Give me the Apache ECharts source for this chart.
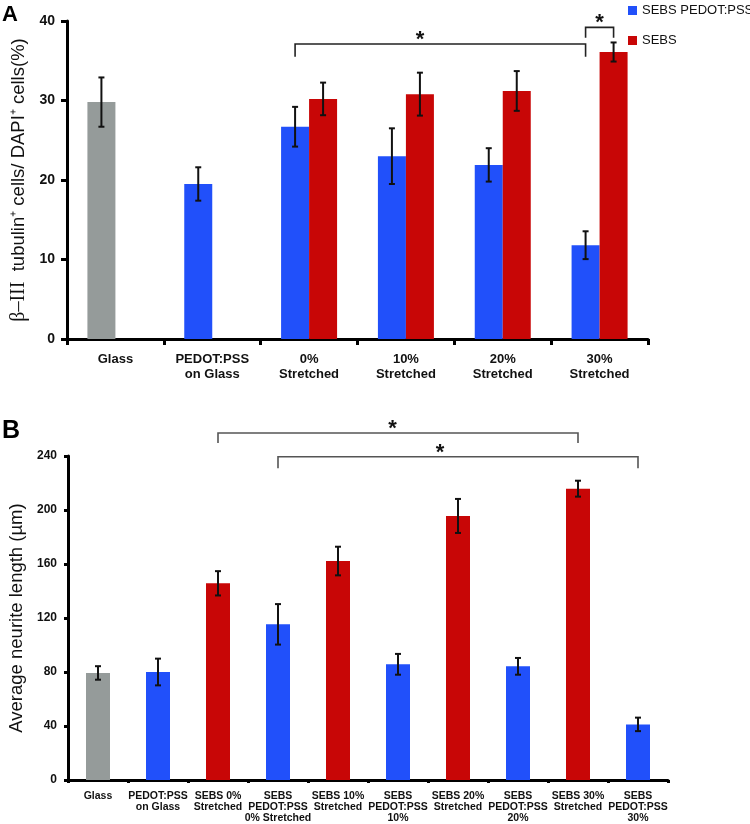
<!DOCTYPE html>
<html>
<head>
<meta charset="utf-8">
<script src="https://cdn.jsdelivr.net/npm/echarts@6/dist/echarts.min.js"></script>
<style>
html,body{margin:0;padding:0;background:#fff;}
#chart{width:750px;height:824px;}
</style>
</head>
<body>
<div id="chart"></div>
<script>
// ---------- Panel A data ----------
const categoriesA = ['Glass', 'PEDOT:PSS\non Glass', '0%\nStretched', '10%\nStretched', '20%\nStretched', '30%\nStretched'];
const glassA      = [29.8, null, null, null, null, null];
const glassErrA   = [3.1, null, null, null, null, null];
const pedotA      = [null, 19.5, 26.7, 23.0, 21.9, 11.8];
const pedotErrA   = [null, 2.1, 2.5, 3.5, 2.1, 1.75];
const sebsA       = [null, null, 30.2, 30.8, 31.2, 36.1];
const sebsErrA    = [null, null, 2.05, 2.7, 2.5, 1.2];
const yTicksA     = [0, 10, 20, 30, 40];
// significance brackets: [fromCat, fromSlot, toCat, toSlot, lineY, dropY, starFraction]
const bracketsA   = [[2, -1, 5, -1, 37.1, 35.5, 0.43], [5, -1, 5, 1, 39.2, 37.9, 0.5]];

// ---------- Panel B data ----------
const categoriesB = ['Glass', 'PEDOT:PSS\non Glass', 'SEBS 0%\nStretched', 'SEBS\nPEDOT:PSS\n0% Stretched',
  'SEBS 10%\nStretched', 'SEBS\nPEDOT:PSS\n10%', 'SEBS 20%\nStretched', 'SEBS\nPEDOT:PSS\n20%',
  'SEBS 30%\nStretched', 'SEBS\nPEDOT:PSS\n30%'];
const glassB    = [79.3, null, null, null, null, null, null, null, null, null];
const pedotB    = [null, 80.0, null, 115.3, null, 85.7, null, 84.2, null, 41.2];
const sebsB     = [null, null, 145.7, null, 162.2, null, 195.6, null, 215.8, null];
const errB      = [5.0, 9.9, 9.0, 15.0, 10.6, 7.7, 12.6, 6.2, 5.9, 5.0];
const yTicksB   = [0, 40, 80, 120, 160, 200, 240];
const bracketsB = [[2, 0, 8, 0, 257, 249.6, 0.485], [3, 0, 9, 0, 239.5, 231, 0.45]];

// ---------- styling ----------
const GRAY = '#959b9a', BLUE = '#2150fa', RED = '#c80606';
const FONT = 'Liberation Sans, Arial, sans-serif';
const barWA = 28, barWB = 24;

function toErr(vals, errs) {
  const out = [];
  vals.forEach((v, i) => { if (v != null) out.push([i, v, errs[i]]); });
  return out;
}
function errRender(offset, cap) {
  return function (params, api) {
    const i = api.value(0), v = api.value(1), e = api.value(2);
    const t = api.coord([i, v + e]), b = api.coord([i, v - e]);
    const x = t[0] + offset;
    const st = { stroke: '#111', lineWidth: 2 };
    return { type: 'group', children: [
      { type: 'line', shape: { x1: x, y1: t[1], x2: x, y2: b[1] }, style: st },
      { type: 'line', shape: { x1: x - cap, y1: t[1], x2: x + cap, y2: t[1] }, style: st },
      { type: 'line', shape: { x1: x - cap, y1: b[1], x2: x + cap, y2: b[1] }, style: st }
    ] };
  };
}
function bracketRender(halfBar, color) {
  return function (params, api) {
    const f = api.value(0), fs = api.value(1), to = api.value(2), ts = api.value(3);
    const yl = api.value(4), yd = api.value(5), frac = api.value(6);
    const p1 = api.coord([f, yl]), p2 = api.coord([to, yl]);
    const d = api.coord([f, yd]);
    const x1 = p1[0] + fs * halfBar, x2 = p2[0] + ts * halfBar;
    const y = p1[1], y2 = d[1];
    return { type: 'group', children: [
      { type: 'polyline', shape: { points: [[x1, y2], [x1, y], [x2, y], [x2, y2]] },
        style: { stroke: color, lineWidth: 1.6, fill: null } },
      { type: 'text', x: x1 + (x2 - x1) * frac, y: y + 7,
        style: { text: '*', font: 'bold 22px ' + FONT, fill: '#111', align: 'center', verticalAlign: 'bottom' } }
    ] };
  };
}

const chart = echarts.init(document.getElementById('chart'), null, { renderer: 'canvas' });
const axisLine = { show: true, lineStyle: { color: '#000', width: 3 } };

const option = {
  animation: false,
  backgroundColor: '#fff',
  textStyle: { fontFamily: FONT },
  legend: {
    data: ['SEBS PEDOT:PSS', 'SEBS'],
    orient: 'vertical', left: 623, top: -1, itemWidth: 9, itemHeight: 9, itemGap: 17,
    icon: 'rect', textStyle: { fontSize: 13, color: '#111', fontFamily: FONT }
  },
  graphic: [
    { type: 'text', left: 2, top: 4, style: { text: 'A', font: 'bold 22px ' + FONT, fill: '#000' } },
    { type: 'text', left: 2, top: 419, style: { text: 'B', font: 'bold 25px ' + FONT, fill: '#000' } }
  ],
  grid: [
    { left: 67, top: 21, width: 581, height: 318, outerBoundsMode: 'none', containLabel: false },
    { left: 68, top: 456, width: 600, height: 324, outerBoundsMode: 'none', containLabel: false }
  ],
  xAxis: [
    { type: 'category', gridIndex: 0, data: categoriesA, axisLine: axisLine,
      axisTick: { show: true, length: 6, lineStyle: { width: 3, color: '#000' } },
      axisLabel: { interval: 0, fontWeight: 'bold', fontSize: 13, lineHeight: 15, color: '#111', margin: 13 } },
    { type: 'category', gridIndex: 1, data: categoriesB, axisLine: axisLine,
      axisTick: { show: true, length: 3, lineStyle: { width: 3, color: '#000' } },
      axisLabel: { interval: 0, fontWeight: 'bold', fontSize: 10.5, lineHeight: 11, color: '#111', margin: 11 } }
  ],
  yAxis: [
    { type: 'value', gridIndex: 0, min: yTicksA[0], max: yTicksA[yTicksA.length - 1], interval: yTicksA[1] - yTicksA[0],
      axisLine: axisLine, axisTick: { show: true, length: 6, lineStyle: { width: 3, color: '#000' } },
      splitLine: { show: false },
      axisLabel: { fontWeight: 'bold', fontSize: 14, color: '#111', margin: 12 },
      name: '{g|β–III}  tubulin⁺ cells/ DAPI⁺ cells(%)', nameLocation: 'middle', nameRotate: 90, nameGap: 31,
      nameTextStyle: { fontSize: 18.5, color: '#111', fontFamily: FONT,
        rich: { g: { fontSize: 20, fontFamily: 'Liberation Serif, serif', color: '#111' } } } },
    { type: 'value', gridIndex: 1, min: yTicksB[0], max: yTicksB[yTicksB.length - 1], interval: yTicksB[1] - yTicksB[0],
      axisLine: axisLine, axisTick: { show: true, length: 4, lineStyle: { width: 3, color: '#000' } },
      splitLine: { show: false },
      axisLabel: { fontWeight: 'bold', fontSize: 12, color: '#111', margin: 11 },
      name: 'Average neurite length (µm)', nameLocation: 'middle', nameRotate: 90, nameGap: 28,
      nameTextStyle: { fontSize: 18.5, color: '#111', fontFamily: FONT } }
  ],
  series: [
    // Panel A
    { name: 'Glass', type: 'bar', xAxisIndex: 0, yAxisIndex: 0, stack: 'left', data: glassA,
      barWidth: barWA, barGap: '0%', itemStyle: { color: GRAY } },
    { name: 'SEBS PEDOT:PSS', type: 'bar', xAxisIndex: 0, yAxisIndex: 0, stack: 'left', data: pedotA,
      barWidth: barWA, barGap: '0%', itemStyle: { color: BLUE } },
    { name: 'SEBS', type: 'bar', xAxisIndex: 0, yAxisIndex: 0, data: sebsA,
      barWidth: barWA, barGap: '0%', itemStyle: { color: RED } },
    { type: 'custom', xAxisIndex: 0, yAxisIndex: 0, renderItem: errRender(-barWA / 2, 3),
      data: toErr(glassA, glassErrA).concat(toErr(pedotA, pedotErrA)), encode: { x: 0, y: 1 }, z: 5, silent: true },
    { type: 'custom', xAxisIndex: 0, yAxisIndex: 0, renderItem: errRender(barWA / 2, 3),
      data: toErr(sebsA, sebsErrA), encode: { x: 0, y: 1 }, z: 5, silent: true },
    { type: 'custom', xAxisIndex: 0, yAxisIndex: 0, renderItem: bracketRender(barWA / 2, '#222'),
      data: bracketsA, encode: { x: [0, 2], y: [4, 5] }, clip: false, z: 6, silent: true },
    // Panel B
    { name: 'Glass B', type: 'bar', xAxisIndex: 1, yAxisIndex: 1, stack: 'b', data: glassB,
      barWidth: barWB, itemStyle: { color: GRAY } },
    { name: 'SEBS PEDOT:PSS B', type: 'bar', xAxisIndex: 1, yAxisIndex: 1, stack: 'b', data: pedotB,
      barWidth: barWB, itemStyle: { color: BLUE } },
    { name: 'SEBS B', type: 'bar', xAxisIndex: 1, yAxisIndex: 1, stack: 'b', data: sebsB,
      barWidth: barWB, itemStyle: { color: RED } },
    { type: 'custom', xAxisIndex: 1, yAxisIndex: 1, renderItem: errRender(0, 3),
      data: toErr(glassB, errB).concat(toErr(pedotB, errB)).concat(toErr(sebsB, errB)),
      encode: { x: 0, y: 1 }, z: 5, silent: true },
    { type: 'custom', xAxisIndex: 1, yAxisIndex: 1, renderItem: bracketRender(0, '#555'),
      data: bracketsB, encode: { x: [0, 2], y: [4, 5] }, clip: false, z: 6, silent: true }
  ]
};
chart.setOption(option);
</script>
</body>
</html>
